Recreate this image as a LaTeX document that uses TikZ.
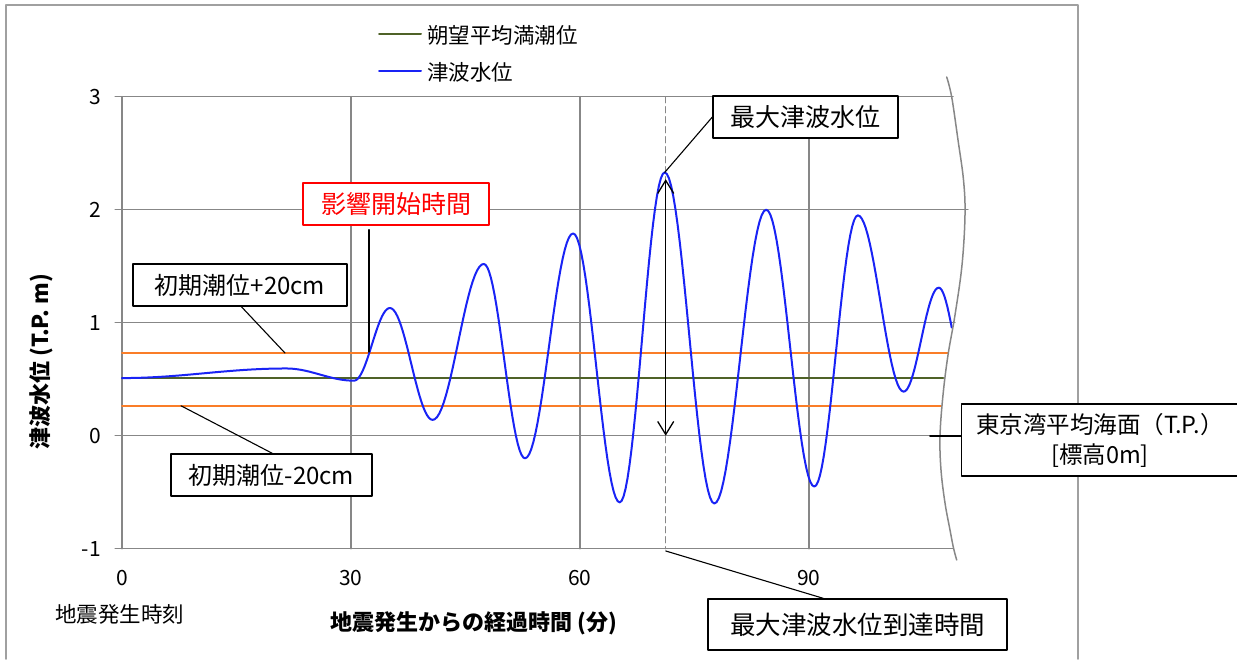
\documentclass[tikz,border=0pt]{standalone}
\usepackage{fontspec}
\setmainfont{Noto Sans CJK JP}
\usetikzlibrary{arrows.meta}
\definecolor{gridgray}{RGB}{135,135,135}
\definecolor{framegray}{RGB}{160,160,160}
\definecolor{tideorange}{RGB}{250,125,40}
\definecolor{tidegreen}{RGB}{79,98,40}
\definecolor{waveblue}{RGB}{25,35,245}
\tikzset{
    callout/.style={draw=black, line width=1.3pt, fill=white, inner sep=0pt, font=\fontsize{25}{28}\selectfont},
    leader/.style={black, line width=1.1pt},
    gridline/.style={gridgray, line width=1.5pt},
    ticklabel/.style={font=\fontsize{21}{24}\selectfont, inner sep=0pt},
    barb/.tip={Straight Barb[length=13pt,width=16pt]},
}
\begin{document}
\begin{tikzpicture}[x=1pt, y=-1pt, line cap=round, line join=round]
    \useasboundingbox (0,0) rectangle (1237,659);
    % outer chart frame
    \draw[framegray, line width=1.5pt] (6,659)--(6,5)--(1078,5)--(1078,659);
    % legend
    \draw[tidegreen, line width=2pt] (379,34.3)--(421,34.3);
    \draw[waveblue, line width=2pt] (379,71)--(421,71);
    \node[ticklabel, font=\fontsize{21.5}{24}\selectfont, anchor=west] (legtide) at (427,35) {朔望平均満潮位};
    \node[ticklabel, font=\fontsize{21.5}{24}\selectfont, anchor=west] (legwave) at (427,72) {津波水位};
    \begin{scope}[shift={(122,435.7)}, x=7.633pt, y=113pt]
        % horizontal grid, each one stops at the break line
        \foreach \v/\e in {3/108.87, 2/110.83, 1/109.13, 0/105.86, -1/108.87}{
            \draw[gridline] (-0.9,\v)--(\e,\v);
            \node[ticklabel, anchor=east] (ylab\v) at (-2.75,\v) {\v};
        }
        \foreach \t in {0,30,60,90}{
            \draw[gridline] (\t,-1)--(\t,3);
            \node[ticklabel] (xlab\t) at (\t,-1.256) {\t};
        }
        % tide levels
        \draw[tideorange, line width=2pt] (0,0.732)--(108.2,0.732);
        \draw[tidegreen, line width=1.5pt] (0,0.511)--(107.6,0.511);
        \draw[tideorange, line width=2pt] (0,0.265)--(107.3,0.265);
        % max level time
        \draw[gridgray, line width=1.3pt, dash pattern=on 6pt off 4pt] (71.23,3)--(71.23,-1);
        % wave: half cosines between the turning points
        \draw[waveblue, line width=2pt] (0,0.51)
        \foreach \ta/\ya/\tb/\yb in {0/0.51/21.5/0.595, 21.5/0.595/30.4/0.487, 30.4/0.487/35.1/1.13,
            35.1/1.13/40.7/0.14, 40.7/0.14/47.4/1.52, 47.4/1.52/52.8/-0.2, 52.8/-0.2/59.1/1.79,
            59.1/1.79/65.2/-0.59, 65.2/-0.59/71.1/2.33, 71.1/2.33/77.6/-0.6, 77.6/-0.6/84.4/2.0,
            84.4/2.0/90.7/-0.45, 90.7/-0.45/96.4/1.95, 96.4/1.95/102.4/0.39, 102.4/0.39/107.0/1.31}{
            -- plot[domain=\ta:\tb, samples=24] (\x, {\ya+(\yb-\ya)*(1-cos(180*(\x-\ta)/(\tb-\ta)))/2})
        }
        -- plot[domain=107.0:108.7, samples=10] (\x, {1.31+(0.35-1.31)*(1-cos(180*(\x-107.0)/4.1))/2});
        \coordinate (peak) at (71.1,2.33);
        \coordinate (maxtop) at (71.23,2.27);
        \coordinate (maxzero) at (71.23,0);
        \coordinate (arrive) at (71.23,-1.02);
        \coordinate (onset) at (32.36,0.74);
        \coordinate (plusend) at (21.35,0.732);
        \coordinate (minusend) at (7.73,0.265);
        \coordinate (tpzero) at (105.86,0);
    \end{scope}
    % break line on the right
    \draw[gridgray, line width=1.5pt] plot[smooth, tension=0.6] coordinates {(946.7,77) (951.7,97) (958,140)
        (963.5,180) (965,215) (962,265) (955,315) (948,355) (943,395) (940,436) (941,470) (945,503) (950,530)
        (953.5,548) (956.7,560)};
    % axis titles
    \node[ticklabel, font=\fontsize{21.5}{24}\selectfont, anchor=west] (origin) at (55,614) {地震発生時刻};
    \node[ticklabel, font=\fontsize{22}{24}\selectfont\bfseries] (xtitle) at (474,623) {地震発生からの経過時間 (分)};
    \node[ticklabel, font=\fontsize{22}{24}\selectfont\bfseries, rotate=90] (ytitle) at (41.7,362) {津波水位 (T.P. m)};
    % callouts
    \node[callout, draw=red, text=red, minimum width=186pt, minimum height=42pt] (eikyo) at (396,204) {影響開始時間};
    \node[callout, font=\fontsize{24}{28}\selectfont, minimum width=214pt, minimum height=42pt] (plus20) at (240,285) {初期潮位+20cm};
    \node[callout, font=\fontsize{24}{28}\selectfont, minimum width=201pt, minimum height=42pt] (minus20) at (271.5,475) {初期潮位-20cm};
    \node[callout, minimum width=185pt, minimum height=42pt] (maxbox) at (805.5,117) {最大津波水位};
    \node[callout, font=\fontsize{25.5}{28}\selectfont, minimum width=299pt, minimum height=51pt] (arrbox) at (857.5,624.5) {最大津波水位到達時間};
    \node[callout, font=\fontsize{23.5}{30}\selectfont, align=center, minimum width=277pt, minimum height=72pt] (tpbox) at (1100,440) {東京湾平均海面（T.P.）\\{}[標高0m]};
    % leaders
    \draw[leader, shorten <=4pt] (eikyo.south -| onset)--(onset);
    \draw[leader] ([xshift=109pt]plus20.south west)--(plusend);
    \draw[leader] ([xshift=102pt]minus20.north west)--(minusend);
    \draw[leader] (maxbox.west)--(peak);
    \draw[leader] ([xshift=116pt]arrbox.north west)--(arrive);
    \draw[leader, line width=2pt] (tpzero)--(tpbox.west |- tpzero);
    \draw[leader, line width=1.3pt, barb-barb] (maxtop)--(maxzero);
\end{tikzpicture}
\end{document}
